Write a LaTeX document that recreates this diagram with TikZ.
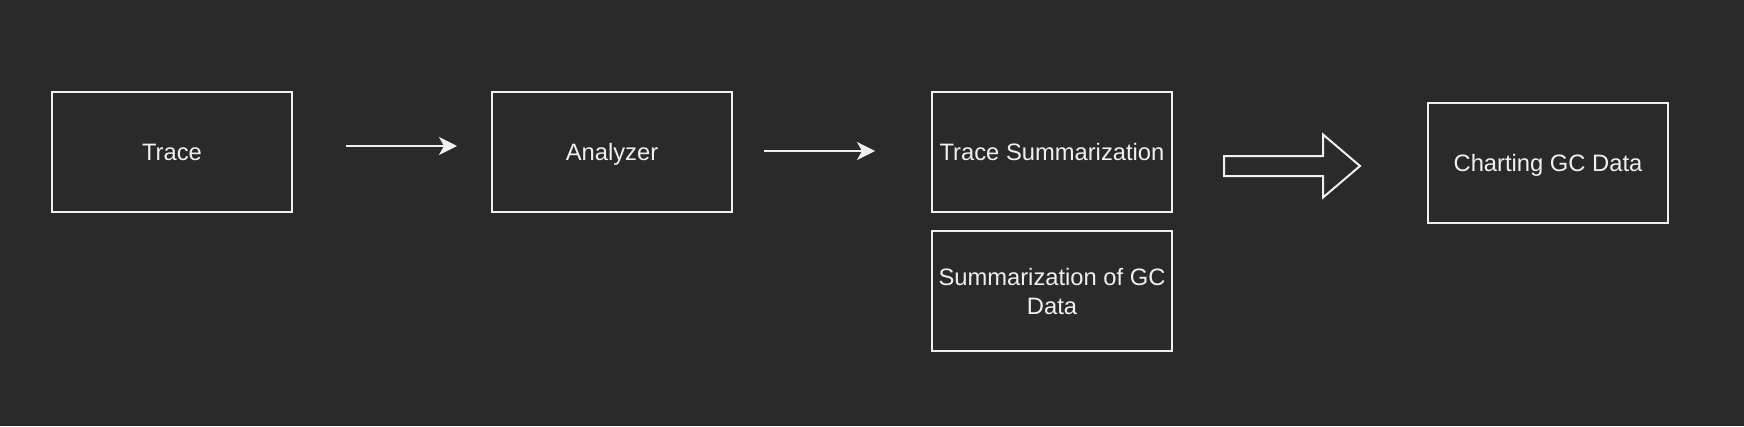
\documentclass[tikz,border=0pt]{standalone}
\usepackage{fontspec}
\setmainfont{Liberation Sans}
\usetikzlibrary{arrows.meta}
\definecolor{bg}{HTML}{2A2A2A}
\definecolor{ink}{HTML}{F0F0F0}
\tikzset{
  box/.style={draw=ink, line width=2pt, minimum width=240pt, minimum height=120pt,
    inner sep=0pt, text depth=0pt, text=ink, align=center, font=\fontsize{23.75}{29}\selectfont},
  link/.style={draw=ink, line width=1.6pt, -{Stealth[length=18pt, width=18pt, inset=5pt]}}
}
\begin{document}
\begin{tikzpicture}[x=1pt, y=-1pt]
    \fill[bg] (0,0) rectangle (1744,426);
    \useasboundingbox (0,0) rectangle (1744,426);
    %        1 Trace    2 Analyzer   3 summary   4 GC summary   5 charts
    \foreach \b/\t [count=\i from 1] in {(172,152)/Trace,(612,152)/Analyzer,(1052,152)/Trace Summarization,(1052,291)/{Summarization of GC\\Data},(1548,162.5)/Charting GC Data}
      {\node[box] (b\i) at \b {\t};}
    \coordinate (a1s) at (346,146);
    \coordinate (a1e) at (457,146);
    \coordinate (a2s) at (764,151);
    \coordinate (a2e) at (875,151);
    \draw[link] (a1s)--(a1e);
    \draw[link] (a2s)--(a2e);
    \draw[draw=ink, line width=2pt, line join=miter] (1224,156)--(1323,156)--(1323,134.5)--(1360,166)--(1323,197.5)--(1323,176)--(1224,176)--cycle;
  \end{tikzpicture}
\end{document}
